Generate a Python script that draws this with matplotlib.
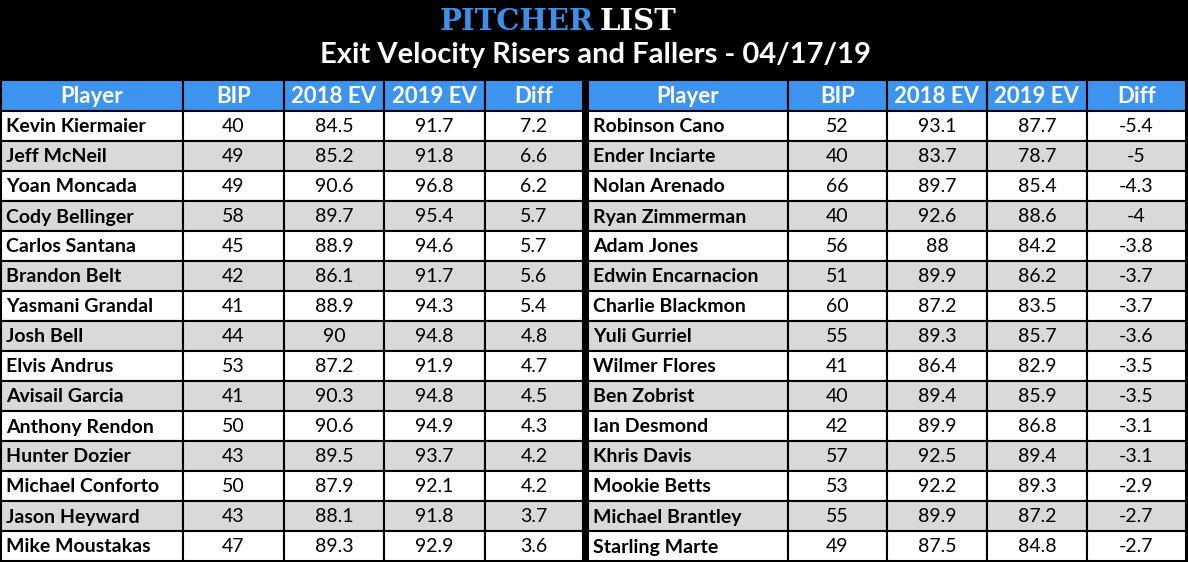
import matplotlib.pyplot as plt
from matplotlib.patches import Rectangle

# left table: risers
risers = ['Kevin Kiermaier', 'Jeff McNeil', 'Yoan Moncada', 'Cody Bellinger', 'Carlos Santana',
          'Brandon Belt', 'Yasmani Grandal', 'Josh Bell', 'Elvis Andrus', 'Avisail Garcia',
          'Anthony Rendon', 'Hunter Dozier', 'Michael Conforto', 'Jason Heyward', 'Mike Moustakas']
risers_bip = [40, 49, 49, 58, 45, 42, 41, 44, 53, 41, 50, 43, 50, 43, 47]
risers_ev18 = ['84.5', '85.2', '90.6', '89.7', '88.9', '86.1', '88.9', '90', '87.2', '90.3',
               '90.6', '89.5', '87.9', '88.1', '89.3']
risers_ev19 = ['91.7', '91.8', '96.8', '95.4', '94.6', '91.7', '94.3', '94.8', '91.9', '94.8',
               '94.9', '93.7', '92.1', '91.8', '92.9']
risers_diff = ['7.2', '6.6', '6.2', '5.7', '5.7', '5.6', '5.4', '4.8', '4.7', '4.5',
               '4.3', '4.2', '4.2', '3.7', '3.6']

# right table: fallers
fallers = ['Robinson Cano', 'Ender Inciarte', 'Nolan Arenado', 'Ryan Zimmerman', 'Adam Jones',
           'Edwin Encarnacion', 'Charlie Blackmon', 'Yuli Gurriel', 'Wilmer Flores', 'Ben Zobrist',
           'Ian Desmond', 'Khris Davis', 'Mookie Betts', 'Michael Brantley', 'Starling Marte']
fallers_bip = [52, 40, 66, 40, 56, 51, 60, 55, 41, 40, 42, 57, 53, 55, 49]
fallers_ev18 = ['93.1', '83.7', '89.7', '92.6', '88', '89.9', '87.2', '89.3', '86.4', '89.4',
                '89.9', '92.5', '92.2', '89.9', '87.5']
fallers_ev19 = ['87.7', '78.7', '85.4', '88.6', '84.2', '86.2', '83.5', '85.7', '82.9', '85.9',
                '86.8', '89.4', '89.3', '87.2', '84.8']
fallers_diff = ['-5.4', '-5', '-4.3', '-4', '-3.8', '-3.7', '-3.7', '-3.6', '-3.5', '-3.5',
                '-3.1', '-3.1', '-2.9', '-2.7', '-2.7']

headers = ['Player', 'BIP', '2018 EV', '2019 EV', 'Diff']

W, H = 1188, 562
fig = plt.figure(figsize=(W / 100, H / 100), dpi=100, facecolor='black')
ax = fig.add_axes([0, 0, 1, 1])
ax.set_xlim(0, W)
ax.set_ylim(H, 0)
ax.axis('off')
plt.rcParams['font.family'] = ['Lato', 'DejaVu Sans']

ax.text(W / 2, 22, 'PITCHER', color='#3d8fe8', fontsize=21, fontweight='black',
        ha='right', va='center', family='DejaVu Serif')
ax.text(W / 2 + 6, 22, 'LIST', color='white', fontsize=21, fontweight='black',
        ha='left', va='center', family='DejaVu Serif')
ax.text(W / 2 + 2, 55, 'Exit Velocity Risers and Fallers - 04/17/19', color='white',
        fontsize=21, fontweight='bold', ha='center', va='center')

top, hh, rh = 80, 31, 30


def draw_table(cols, data):
    for j, h in enumerate(headers):
        x0, x1 = cols[j], cols[j + 1]
        ax.add_patch(Rectangle((x0, top), x1 - x0, hh, facecolor='#3d94ee',
                               edgecolor='black', lw=1.5))
        ax.text((x0 + x1) / 2, top + hh / 2 + 1, h, color='white', fontsize=16,
                fontweight='bold', ha='center', va='center')
    for i in range(len(data[0])):
        y0 = top + hh + i * rh
        fc = 'white' if i % 2 == 0 else '#d9d9d9'
        for j in range(5):
            x0, x1 = cols[j], cols[j + 1]
            ax.add_patch(Rectangle((x0, y0), x1 - x0, rh, facecolor=fc,
                                   edgecolor='black', lw=1.5))
            if j == 0:
                ax.text(x0 + 5, y0 + rh / 2 + 1, data[0][i], fontsize=14,
                        fontweight='bold', ha='left', va='center')
            else:
                ax.text((x0 + x1) / 2, y0 + rh / 2 + 1, str(data[j][i]), fontsize=14,
                        ha='center', va='center')


draw_table([1, 183, 284, 384, 485, 583],
           [risers, risers_bip, risers_ev18, risers_ev19, risers_diff])
draw_table([588, 788, 887, 987, 1087, 1186],
           [fallers, fallers_bip, fallers_ev18, fallers_ev19, fallers_diff])

fig.savefig('out.png', dpi=100, facecolor='black')
